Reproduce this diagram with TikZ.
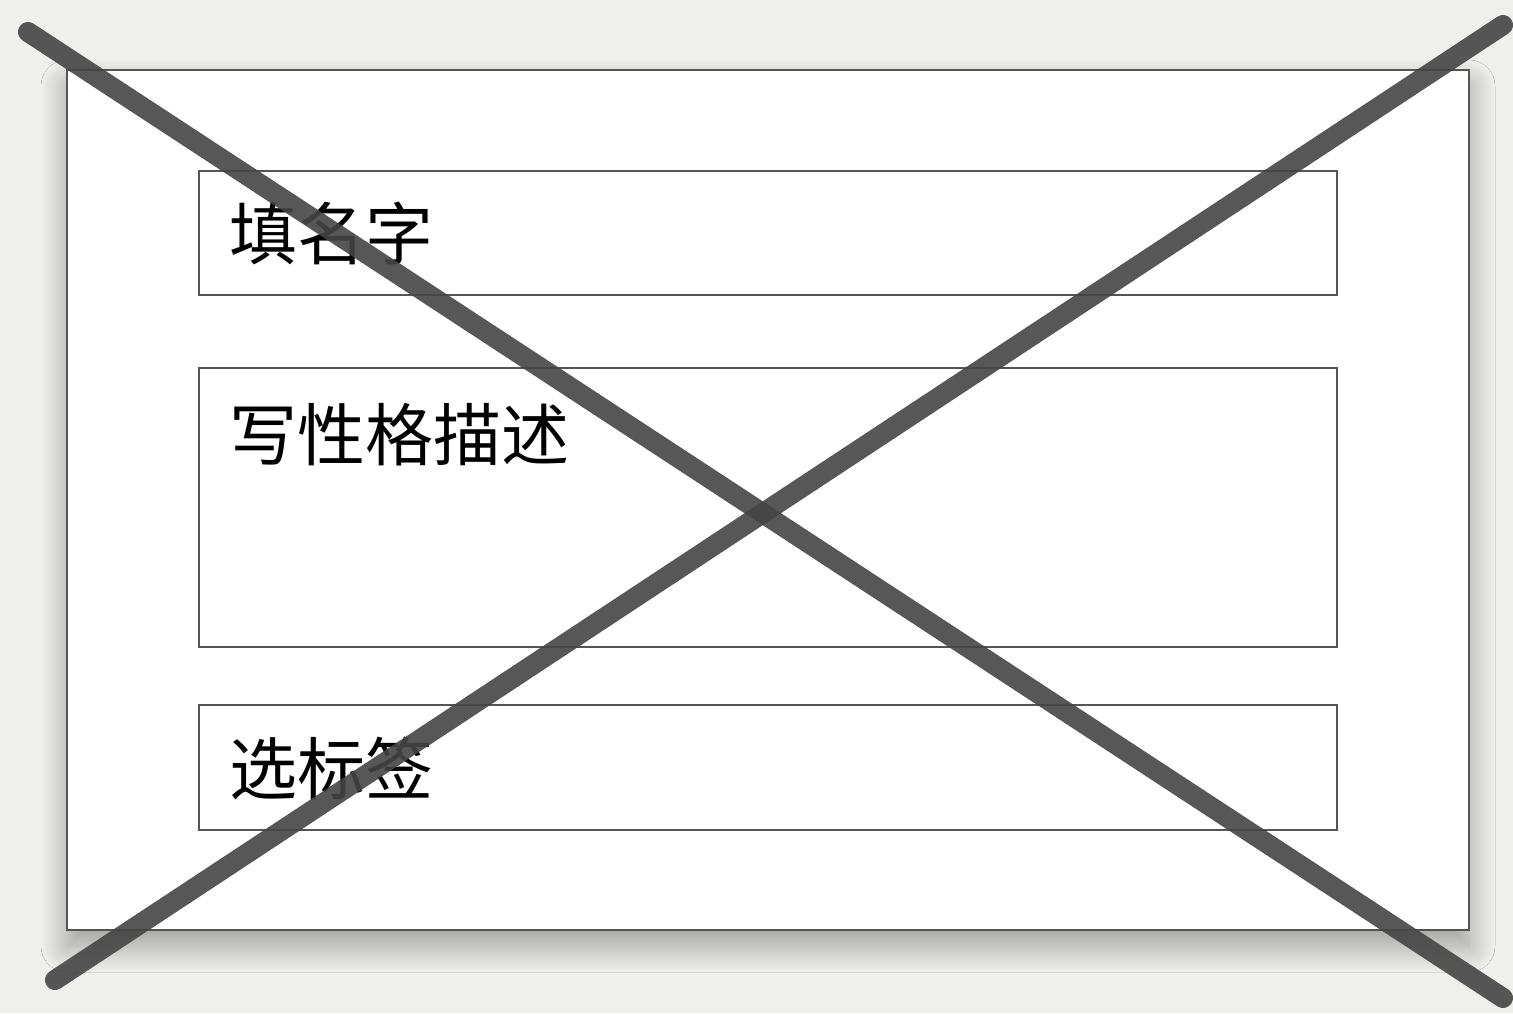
\documentclass[tikz,border=0pt]{standalone}
\usepackage{fontspec}
\newfontfamily\cjk{Noto Sans CJK SC}
\usetikzlibrary{shadows.blur}
\definecolor{paper}{HTML}{EFEFEC}
\definecolor{cardline}{HTML}{555555}
\definecolor{pencil}{HTML}{454545}
\tikzset{
  card/.style={draw=cardline, line width=2pt, fill=white,
    blur shadow={shadow xshift=0pt, shadow yshift=-16pt, shadow blur radius=26pt, shadow blur steps=25, shadow opacity=35}},
  field/.style={draw=cardline, line width=2pt, fill=white},
  lbl/.style={anchor=west, font=\cjk\fontsize{68}{72}\selectfont, inner sep=0pt, text=black},
  cross/.style={draw=pencil, line width=20pt, line cap=round, opacity=0.9}
}
\begin{document}
\begin{tikzpicture}[x=1pt,y=-1pt]
\fill[paper] (0,0) rectangle (1513,1013);
\useasboundingbox (0,0) rectangle (1513,1013);
\node[card, minimum width=1402pt, minimum height=860pt, inner sep=0pt] (cardbox) at (768,500) {};
\node[field, minimum width=1138pt, minimum height=124pt, inner sep=0pt] (f1) at (768,233) {};
\node[field, minimum width=1138pt, minimum height=279pt, inner sep=0pt] (f2) at (768,507.5) {};
\node[field, minimum width=1138pt, minimum height=125pt, inner sep=0pt] (f3) at (768,767.5) {};
\node[lbl] (t1) at (229,233) {填名字};
\node[lbl] (t2) at (229,435) {写性格描述};
\node[lbl] (t3) at (229,768) {选标签};
\coordinate (xa) at (28,32);
\coordinate (xb) at (1503,998);
\coordinate (xc) at (55,980);
\coordinate (xd) at (1503,25);
\draw[cross] (xa) -- (xb);
\draw[cross] (xc) -- (xd);
\end{tikzpicture}
\end{document}
